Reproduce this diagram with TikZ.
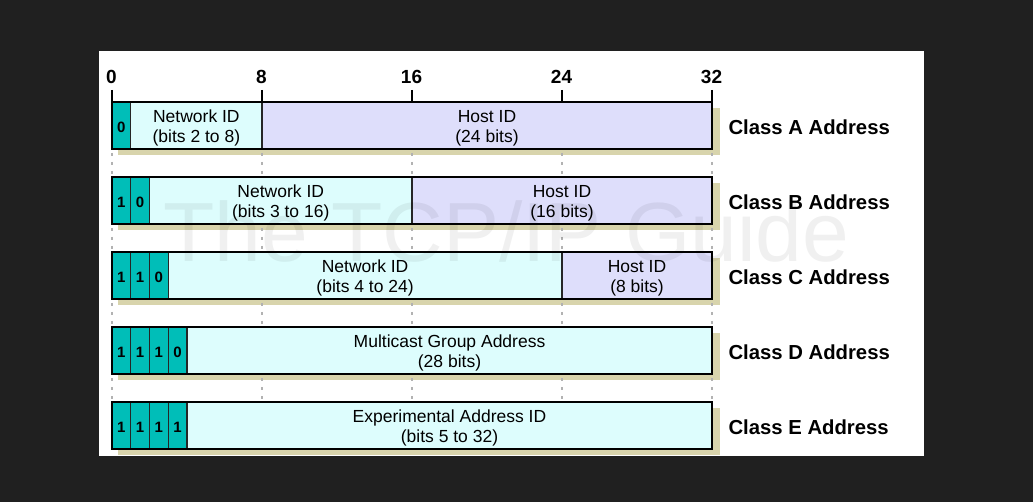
\documentclass[tikz,border=0pt]{standalone}
\usepackage{fontspec}
\setmainfont{Liberation Sans}
\definecolor{bitteal}{RGB}{0,190,184}
\definecolor{netcyan}{RGB}{221,253,253}
\definecolor{hostlav}{RGB}{222,222,251}
\definecolor{boxshade}{RGB}{216,212,172}
\definecolor{pagedark}{RGB}{32,32,32}
\tikzset{
    field/.style={draw=black!85, line width=1.2pt, outer sep=0pt, inner sep=0pt},
    bitcell/.style={field, fill=bitteal},
    netfield/.style={field, fill=netcyan},
    hostfield/.style={field, fill=hostlav},
    fieldtext/.style={align=center, inner sep=0pt, yshift=-2.5pt,
        font=\fontsize{17.5}{20}\selectfont},
    bittext/.style={inner sep=0pt, yshift=-1.5pt,
        font=\fontsize{15}{18}\selectfont\bfseries},
    rowbox/.style={draw=black, line width=2.2pt},
    rowshade/.style={fill=boxshade},
    bitnum/.style={font=\fontsize{19}{22}\selectfont\bfseries},
    classlabel/.style={anchor=west, font=\fontsize{20.3}{24}\selectfont\bfseries},
    guide/.style={draw=black!30, line width=2pt, dash pattern=on 3pt off 6pt}
}
% one field of a row: name, style, first bit, last bit, row top, text
\newcommand{\Field}[6]{
    \node[#2, anchor=north west, minimum width={18.75pt*(#4-#3)},
        minimum height=47pt] (#1) at ({112+18.75*#3},#5) {};
    \node[fieldtext] (#1t) at (#1.center) {#6};
}
% one leading bit of a row: name, bit, row top, value
\newcommand{\Bit}[4]{
    \node[bitcell, anchor=north west, minimum width=18.75pt,
        minimum height=47pt] (#1) at ({112+18.75*#2},#3) {};
    \node[bittext] (#1t) at (#1.center) {#4};
}
\begin{document}
\begin{tikzpicture}[x=1pt,y=-1pt]
    \useasboundingbox (0,0) rectangle (1033,502);
    \fill[pagedark] (0,0) rectangle (1033,502);
    \fill[white] (99,51) rectangle (924,456);

    % shades behind the rows
    \foreach \t in {102,177,252,327,402}
        \fill[rowshade] (118,\t+6) rectangle (720,\t+53);

    % guide lines between the rows
    \foreach \b in {0,8,16,24,32}
        \foreach \t in {149,224,299,374}
            \draw[guide] ({111.5+18.75*\b},\t+4) -- ({111.5+18.75*\b},\t+28);

    % class A
    \Bit{a1}{0}{102}{0}
    \Field{anet}{netfield}{1}{8}{102}{Network ID\\(bits 2 to 8)}
    \Field{ahost}{hostfield}{8}{32}{102}{Host ID\\(24 bits)}
    \draw[rowbox] (a1.north west) rectangle (ahost.south east);
    \node[classlabel] (aname) at (725,127) {Class A Address};

    % class B
    \Bit{b1}{0}{177}{1}
    \Bit{b2}{1}{177}{0}
    \Field{bnet}{netfield}{2}{16}{177}{Network ID\\(bits 3 to 16)}
    \Field{bhost}{hostfield}{16}{32}{177}{Host ID\\(16 bits)}
    \draw[rowbox] (b1.north west) rectangle (bhost.south east);
    \node[classlabel] (bname) at (725,202) {Class B Address};

    % class C
    \Bit{c1}{0}{252}{1}
    \Bit{c2}{1}{252}{1}
    \Bit{c3}{2}{252}{0}
    \Field{cnet}{netfield}{3}{24}{252}{Network ID\\(bits 4 to 24)}
    \Field{chost}{hostfield}{24}{32}{252}{Host ID\\(8 bits)}
    \draw[rowbox] (c1.north west) rectangle (chost.south east);
    \node[classlabel] (cname) at (725,277) {Class C Address};

    % class D
    \Bit{d1}{0}{327}{1}
    \Bit{d2}{1}{327}{1}
    \Bit{d3}{2}{327}{1}
    \Bit{d4}{3}{327}{0}
    \Field{dgroup}{netfield}{4}{32}{327}{Multicast Group Address\\(28 bits)}
    \draw[rowbox] (d1.north west) rectangle (dgroup.south east);
    \node[classlabel] (dname) at (725,352) {Class D Address};

    % class E
    \Bit{e1}{0}{402}{1}
    \Bit{e2}{1}{402}{1}
    \Bit{e3}{2}{402}{1}
    \Bit{e4}{3}{402}{1}
    \Field{eexp}{netfield}{4}{32}{402}{Experimental Address ID\\(bits 5 to 32)}
    \draw[rowbox] (e1.north west) rectangle (eexp.south east);
    \node[classlabel] (ename) at (725,427) {Class E Address};

    % bit scale
    \foreach \b in {0,8,16,24,32} {
        \node[bitnum] (n\b) at ({111.5+18.75*\b},77) {\b};
        \coordinate (t\b) at ({111.5+18.75*\b},90);
        \draw[line width=2pt] (t\b) -- (t\b |- a1.north);
    }

    % watermark
    \node[anchor=base west, inner sep=0pt, text=black, opacity=0.06,
        font=\fontsize{84}{90}\selectfont] (mark) at (163,262) {The TCP/IP Guide};
\end{tikzpicture}
\end{document}
